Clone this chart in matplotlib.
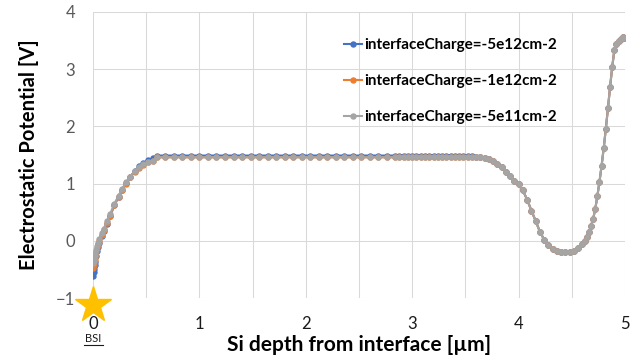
import numpy as np
import matplotlib
matplotlib.use("Agg")
import matplotlib.pyplot as plt
import matplotlib.transforms as mtransforms
from matplotlib.ticker import MultipleLocator

plt.rcParams['font.family'] = ['Lato', 'DejaVu Sans']

# ---- depth samples [um] ----
x_rise = [0.000, 0.005, 0.010, 0.015, 0.020, 0.030, 0.040, 0.050, 0.060, 0.080,
          0.100, 0.130, 0.160, 0.200, 0.240, 0.270, 0.310, 0.350, 0.390, 0.430,
          0.470, 0.520, 0.560, 0.600]
x_flat = [0.68, 0.76, 0.84, 0.92, 1.00, 1.08, 1.16, 1.24, 1.32, 1.40,
          1.48, 1.56, 1.64, 1.72, 1.80, 1.88, 1.96, 2.04, 2.12, 2.20,
          2.28, 2.36, 2.44, 2.52, 2.60, 2.68, 2.76, 2.84, 2.88, 2.92,
          2.96, 3.00, 3.04, 3.08, 3.12, 3.16, 3.20, 3.24, 3.28, 3.32,
          3.36, 3.40, 3.44, 3.48, 3.52, 3.56, 3.60]
x_tail = [3.64, 3.68, 3.72, 3.76, 3.80, 3.84, 3.88, 3.92, 3.96, 4.00,
          4.04, 4.08, 4.12, 4.16, 4.20, 4.24, 4.28, 4.32, 4.36, 4.40,
          4.44, 4.48, 4.52, 4.56, 4.60, 4.62, 4.64, 4.66, 4.68, 4.70,
          4.72, 4.74, 4.76, 4.78, 4.80, 4.82, 4.84, 4.86, 4.88, 4.90,
          4.92, 4.94, 4.96, 4.98, 5.00]

# ---- electrostatic potential [V] ----
rise_5e12 = [-0.61, -0.55, -0.49, -0.43, -0.37, -0.27, -0.18, -0.10, -0.03, 0.08,
             0.17, 0.30, 0.43, 0.62, 0.77, 0.89, 1.01, 1.12, 1.22, 1.30,
             1.36, 1.41, 1.44, 1.49]
rise_1e12 = [-0.48, -0.43, -0.38, -0.33, -0.28, -0.20, -0.13, -0.06, 0.00, 0.10,
             0.19, 0.31, 0.44, 0.62, 0.77, 0.88, 1.00, 1.11, 1.21, 1.28,
             1.33, 1.37, 1.39, 1.46]
rise_5e11 = [-0.39, -0.35, -0.31, -0.27, -0.23, -0.16, -0.09, -0.03, 0.03, 0.13,
             0.21, 0.34, 0.47, 0.65, 0.79, 0.90, 1.02, 1.12, 1.22, 1.29,
             1.34, 1.37, 1.39, 1.46]

flat_5e12 = [1.49, 1.49, 1.49, 1.49, 1.49, 1.49, 1.49, 1.49, 1.49, 1.49,
             1.49, 1.49, 1.49, 1.49, 1.49, 1.49, 1.49, 1.49, 1.49, 1.49,
             1.49, 1.49, 1.49, 1.49, 1.49, 1.49, 1.49, 1.49, 1.49, 1.49,
             1.49, 1.49, 1.49, 1.49, 1.49, 1.49, 1.49, 1.49, 1.49, 1.49,
             1.49, 1.49, 1.49, 1.49, 1.48, 1.48, 1.47]
flat_low = [1.46, 1.46, 1.46, 1.46, 1.46, 1.46, 1.46, 1.46, 1.46, 1.46,
            1.46, 1.46, 1.46, 1.46, 1.46, 1.46, 1.46, 1.46, 1.46, 1.46,
            1.46, 1.46, 1.46, 1.46, 1.46, 1.46, 1.46, 1.46, 1.46, 1.46,
            1.46, 1.46, 1.46, 1.46, 1.46, 1.46, 1.46, 1.46, 1.46, 1.46,
            1.46, 1.46, 1.46, 1.46, 1.46, 1.46, 1.46]

# bulk / front side: identical for all interface charges
tail_all = [1.46, 1.45, 1.43, 1.39, 1.34, 1.29, 1.21, 1.13, 1.05, 0.99,
            0.88, 0.72, 0.53, 0.35, 0.16, 0.02, -0.08, -0.14, -0.175, -0.19,
            -0.20, -0.195, -0.17, -0.13, -0.06, -0.01, 0.07, 0.15, 0.26, 0.38,
            0.55, 0.78, 1.03, 1.31, 1.62, 1.96, 2.32, 2.69, 3.04, 3.33,
            3.44, 3.49, 3.52, 3.56, 3.55]

x_all = x_rise + x_flat + x_tail
series = [
    ("interfaceCharge=-5e12cm-2", rise_5e12 + flat_5e12 + tail_all, "#4472C4"),
    ("interfaceCharge=-1e12cm-2", rise_1e12 + flat_low + tail_all, "#ED7D31"),
    ("interfaceCharge=-5e11cm-2", rise_5e11 + flat_low + tail_all, "#A5A5A5"),
]

fig = plt.figure(figsize=(6.42, 3.60), dpi=100)
ax = fig.add_axes([0.145, 0.172, 0.8285, 0.795])

for label, y, color in series:
    ax.plot(x_all, y, color=color, lw=1.5, marker='o', ms=3.6,
            mec=color, mfc=color, label=label, zorder=3)

ax.set_xlim(0, 5)
ax.set_ylim(-1, 4)
ax.xaxis.set_major_locator(MultipleLocator(1))
ax.xaxis.set_minor_locator(MultipleLocator(0.5))
ax.yaxis.set_major_locator(MultipleLocator(1))
ax.grid(which='both', axis='x', color='#d9d9d9', lw=0.75, zorder=0)
ax.grid(which='major', axis='y', color='#d9d9d9', lw=0.75, zorder=0)
for s in ax.spines.values():
    s.set_visible(False)
ax.tick_params(which='both', length=0)
ax.tick_params(axis='y', labelsize=12, labelcolor='#595959', pad=13)
ax.tick_params(axis='x', labelsize=12, labelcolor='#1a1a1a', pad=13)

ax.set_ylabel("Electrostatic Potential [V]", fontsize=14.5, fontweight='bold')
ax.set_xlabel("Si depth from interface [µm]", fontsize=15, fontweight='bold',
              labelpad=2)
ax.yaxis.set_label_coords(-0.1025, 0.5)

# back-side interface marker (star sits just below the axis corner)
star_offset = mtransforms.offset_copy(ax.transData, fig=fig, x=0, y=-5,
                                      units='points')
ax.plot([0], [-1], marker='*', ms=27, color='#FFC000', mec='#FFC000',
        clip_on=False, zorder=5, transform=star_offset)
fig.text(93 / 642, 1 - 338 / 360, "BSI", ha='center', va='center',
         fontsize=8, color='#1a1a1a')
fig.add_artist(plt.Line2D([84 / 642, 103 / 642], [1 - 344.5 / 360] * 2,
                          color='#1a1a1a', lw=0.8))

leg = ax.legend(loc='upper left', bbox_to_anchor=(0.46, 0.93), frameon=False,
                fontsize=11, labelspacing=1.45, handlelength=1.2,
                handletextpad=0.15, borderaxespad=0)
for t in leg.get_texts():
    t.set_fontweight('bold')

fig.savefig("out.png", dpi=100)
